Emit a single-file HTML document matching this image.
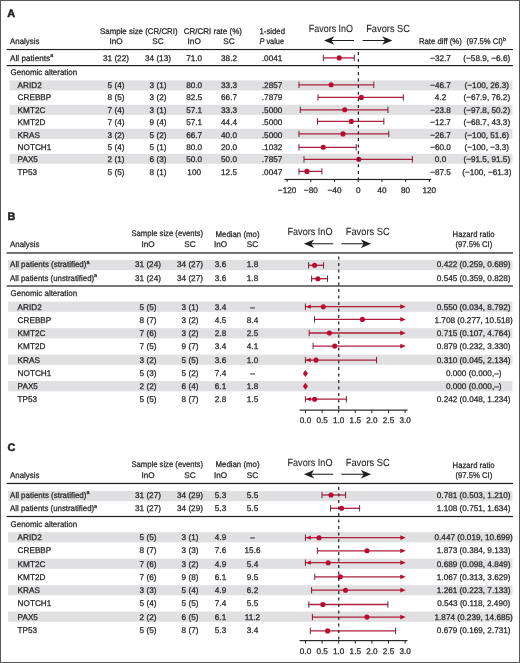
<!DOCTYPE html>
<html><head><meta charset="utf-8"><title>Forest plots</title>
<style>
html,body{margin:0;padding:0;background:#fff;}
svg{display:block;will-change:transform;}
svg text{font-family:"Liberation Sans", sans-serif;font-size:8.2px;fill:#231f20;text-rendering:geometricPrecision;stroke:#231f20;stroke-width:0.25px;}
</style></head>
<body>
<svg width="520" height="663" viewBox="0 0 520 663">
<rect width="520" height="663" fill="#fff"/>
<rect x="0.5" y="0.5" width="519" height="662" fill="none" stroke="#595959" stroke-width="1"/>
<rect x="9.70" y="80.40" width="502.80" height="10.00" fill="#e0e0e2"/>
<rect x="9.70" y="104.85" width="502.80" height="10.00" fill="#e0e0e2"/>
<rect x="9.70" y="128.80" width="502.80" height="10.00" fill="#e0e0e2"/>
<rect x="9.70" y="153.80" width="502.80" height="10.00" fill="#e0e0e2"/>
<text x="7.20" y="16.50" style="font-size:10.9px;stroke-width:0.5px" font-weight="bold">A</text>
<text x="100.00" y="33.60" textLength="77.60" lengthAdjust="spacingAndGlyphs">Sample size (CR/CRI)</text>
<text x="183.75" y="33.60" textLength="58.20" lengthAdjust="spacingAndGlyphs">CR/CRI rate (%)</text>
<text x="259.50" y="33.60" textLength="25.50" lengthAdjust="spacingAndGlyphs">1-sided</text>
<text x="10.10" y="44.00" textLength="29.30" lengthAdjust="spacingAndGlyphs">Analysis</text>
<text x="116.00" y="44.00" text-anchor="middle">InO</text>
<text x="158.00" y="44.00" text-anchor="middle">SC</text>
<text x="194.20" y="44.00" text-anchor="middle">InO</text>
<text x="229.00" y="44.00" text-anchor="middle">SC</text>
<text x="259.50" y="44.00" textLength="24.50" lengthAdjust="spacingAndGlyphs"><tspan font-style="italic">P</tspan> value</text>
<text x="418.90" y="44.00" textLength="42.90" lengthAdjust="spacingAndGlyphs">Rate diff (%)</text>
<text x="466.5" y="44.00"><tspan textLength="36.4" lengthAdjust="spacingAndGlyphs">(97.5% CI)</tspan><tspan style="font-size:5.4px" dy="-3.2">b</tspan></text>
<text x="308.80" y="31.70" style="font-size:10.3px;stroke-width:0.1px" textLength="44.20" lengthAdjust="spacingAndGlyphs">Favors InO</text>
<text x="366.20" y="31.70" style="font-size:10.3px;stroke-width:0.1px" textLength="43.80" lengthAdjust="spacingAndGlyphs">Favors SC</text>
<line x1="331.00" y1="40.50" x2="354.00" y2="40.50" stroke="#231f20" stroke-width="1.05" />
<path d="M324.00,40.50 L334.20,36.20 L331.40,40.50 L334.20,44.80 Z" fill="#231f20"/>
<line x1="362.60" y1="40.50" x2="385.40" y2="40.50" stroke="#231f20" stroke-width="1.05" />
<path d="M392.40,40.50 L382.20,36.20 L385.00,40.50 L382.20,44.80 Z" fill="#231f20"/>
<rect x="6.60" y="48.95" width="506.40" height="1.15" fill="#231f20"/>
<rect x="6.60" y="65.00" width="506.40" height="1.20" fill="#231f20"/>
<text x="10.10" y="60.60">All patients<tspan style="font-size:5.4px" dy="-3.2">a</tspan></text>
<text x="116.00" y="60.60" text-anchor="middle">31 (22)</text>
<text x="158.00" y="60.60" text-anchor="middle">34 (13)</text>
<text x="194.20" y="60.60" text-anchor="middle">71.0</text>
<text x="229.00" y="60.60" text-anchor="middle">38.2</text>
<text x="282.30" y="60.60" text-anchor="end">.0041</text>
<text x="440.50" y="60.60" text-anchor="middle">−32.7</text>
<text x="486.80" y="60.60" text-anchor="middle">(−58.9, −6.6)</text>
<line x1="323.30" y1="57.90" x2="354.29" y2="57.90" stroke="#ad1f3e" stroke-width="1.3" />
<line x1="323.30" y1="54.70" x2="323.30" y2="61.10" stroke="#6e1a2e" stroke-width="0.95" />
<line x1="354.29" y1="54.70" x2="354.29" y2="61.10" stroke="#6e1a2e" stroke-width="0.95" />
<circle cx="339.23" cy="57.90" r="2.55" fill="#b60c31"/>
<text x="10.60" y="75.40" textLength="66.50" lengthAdjust="spacingAndGlyphs">Genomic alteration</text>
<text x="17.60" y="87.80">ARID2</text>
<text x="116.00" y="87.80" text-anchor="middle">5 (4)</text>
<text x="158.00" y="87.80" text-anchor="middle">3 (1)</text>
<text x="194.20" y="87.80" text-anchor="middle">80.0</text>
<text x="229.00" y="87.80" text-anchor="middle">33.3</text>
<text x="282.30" y="87.80" text-anchor="end">.2857</text>
<text x="440.50" y="87.80" text-anchor="middle">−46.7</text>
<text x="486.80" y="87.80" text-anchor="middle">(−100, 26.3)</text>
<line x1="298.95" y1="84.80" x2="373.78" y2="84.80" stroke="#ad1f3e" stroke-width="1.3" />
<line x1="298.95" y1="81.60" x2="298.95" y2="88.00" stroke="#6e1a2e" stroke-width="0.95" />
<line x1="373.78" y1="81.60" x2="373.78" y2="88.00" stroke="#6e1a2e" stroke-width="0.95" />
<circle cx="331.13" cy="84.80" r="2.55" fill="#b60c31"/>
<text x="17.60" y="100.24">CREBBP</text>
<text x="116.00" y="100.24" text-anchor="middle">8 (5)</text>
<text x="158.00" y="100.24" text-anchor="middle">3 (2)</text>
<text x="194.20" y="100.24" text-anchor="middle">82.5</text>
<text x="229.00" y="100.24" text-anchor="middle">66.7</text>
<text x="282.30" y="100.24" text-anchor="end">.7879</text>
<text x="440.50" y="100.24" text-anchor="middle">4.2</text>
<text x="486.80" y="100.24" text-anchor="middle">(−67.9, 76.2)</text>
<line x1="317.97" y1="97.40" x2="403.35" y2="97.40" stroke="#ad1f3e" stroke-width="1.3" />
<line x1="317.97" y1="94.20" x2="317.97" y2="100.60" stroke="#6e1a2e" stroke-width="0.95" />
<line x1="403.35" y1="94.20" x2="403.35" y2="100.60" stroke="#6e1a2e" stroke-width="0.95" />
<circle cx="361.29" cy="97.40" r="2.55" fill="#b60c31"/>
<text x="17.60" y="112.68">KMT2C</text>
<text x="116.00" y="112.68" text-anchor="middle">7 (4)</text>
<text x="158.00" y="112.68" text-anchor="middle">3 (1)</text>
<text x="194.20" y="112.68" text-anchor="middle">57.1</text>
<text x="229.00" y="112.68" text-anchor="middle">33.3</text>
<text x="282.30" y="112.68" text-anchor="end">.5000</text>
<text x="440.50" y="112.68" text-anchor="middle">−23.8</text>
<text x="486.80" y="112.68" text-anchor="middle">(−97.8, 50.2)</text>
<line x1="300.25" y1="109.80" x2="387.94" y2="109.80" stroke="#ad1f3e" stroke-width="1.3" />
<line x1="300.25" y1="106.60" x2="300.25" y2="113.00" stroke="#6e1a2e" stroke-width="0.95" />
<line x1="387.94" y1="106.60" x2="387.94" y2="113.00" stroke="#6e1a2e" stroke-width="0.95" />
<circle cx="344.70" cy="109.80" r="2.55" fill="#b60c31"/>
<text x="17.60" y="125.12">KMT2D</text>
<text x="116.00" y="125.12" text-anchor="middle">7 (4)</text>
<text x="158.00" y="125.12" text-anchor="middle">9 (4)</text>
<text x="194.20" y="125.12" text-anchor="middle">57.1</text>
<text x="229.00" y="125.12" text-anchor="middle">44.4</text>
<text x="282.30" y="125.12" text-anchor="end">.5000</text>
<text x="440.50" y="125.12" text-anchor="middle">−12.7</text>
<text x="486.80" y="125.12" text-anchor="middle">(−68.7, 43.3)</text>
<line x1="317.50" y1="121.40" x2="383.86" y2="121.40" stroke="#ad1f3e" stroke-width="1.3" />
<line x1="317.50" y1="118.20" x2="317.50" y2="124.60" stroke="#6e1a2e" stroke-width="0.95" />
<line x1="383.86" y1="118.20" x2="383.86" y2="124.60" stroke="#6e1a2e" stroke-width="0.95" />
<circle cx="351.28" cy="121.40" r="2.55" fill="#b60c31"/>
<text x="17.60" y="137.56">KRAS</text>
<text x="116.00" y="137.56" text-anchor="middle">3 (2)</text>
<text x="158.00" y="137.56" text-anchor="middle">5 (2)</text>
<text x="194.20" y="137.56" text-anchor="middle">66.7</text>
<text x="229.00" y="137.56" text-anchor="middle">40.0</text>
<text x="282.30" y="137.56" text-anchor="end">.5000</text>
<text x="440.50" y="137.56" text-anchor="middle">−26.7</text>
<text x="486.80" y="137.56" text-anchor="middle">(−100, 51.6)</text>
<line x1="298.95" y1="133.90" x2="388.77" y2="133.90" stroke="#ad1f3e" stroke-width="1.3" />
<line x1="298.95" y1="130.70" x2="298.95" y2="137.10" stroke="#6e1a2e" stroke-width="0.95" />
<line x1="388.77" y1="130.70" x2="388.77" y2="137.10" stroke="#6e1a2e" stroke-width="0.95" />
<circle cx="342.98" cy="133.90" r="2.55" fill="#b60c31"/>
<text x="17.60" y="150.00">NOTCH1</text>
<text x="116.00" y="150.00" text-anchor="middle">5 (4)</text>
<text x="158.00" y="150.00" text-anchor="middle">5 (1)</text>
<text x="194.20" y="150.00" text-anchor="middle">80.0</text>
<text x="229.00" y="150.00" text-anchor="middle">20.0</text>
<text x="282.30" y="150.00" text-anchor="end">.1032</text>
<text x="440.50" y="150.00" text-anchor="middle">−60.0</text>
<text x="486.80" y="150.00" text-anchor="middle">(−100, −3.3)</text>
<line x1="298.95" y1="147.30" x2="356.24" y2="147.30" stroke="#ad1f3e" stroke-width="1.3" />
<line x1="298.95" y1="144.10" x2="298.95" y2="150.50" stroke="#6e1a2e" stroke-width="0.95" />
<line x1="356.24" y1="144.10" x2="356.24" y2="150.50" stroke="#6e1a2e" stroke-width="0.95" />
<circle cx="323.25" cy="147.30" r="2.55" fill="#b60c31"/>
<text x="17.60" y="162.44">PAX5</text>
<text x="116.00" y="162.44" text-anchor="middle">2 (1)</text>
<text x="158.00" y="162.44" text-anchor="middle">6 (3)</text>
<text x="194.20" y="162.44" text-anchor="middle">50.0</text>
<text x="229.00" y="162.44" text-anchor="middle">50.0</text>
<text x="282.30" y="162.44" text-anchor="end">.7857</text>
<text x="440.50" y="162.44" text-anchor="middle">0.0</text>
<text x="486.80" y="162.44" text-anchor="middle">(−91.5, 91.5)</text>
<line x1="303.99" y1="159.30" x2="412.41" y2="159.30" stroke="#ad1f3e" stroke-width="1.3" />
<line x1="303.99" y1="156.10" x2="303.99" y2="162.50" stroke="#6e1a2e" stroke-width="0.95" />
<line x1="412.41" y1="156.10" x2="412.41" y2="162.50" stroke="#6e1a2e" stroke-width="0.95" />
<circle cx="358.80" cy="159.30" r="2.55" fill="#b60c31"/>
<text x="17.60" y="174.88">TP53</text>
<text x="116.00" y="174.88" text-anchor="middle">5 (5)</text>
<text x="158.00" y="174.88" text-anchor="middle">8 (1)</text>
<text x="194.20" y="174.88" text-anchor="middle">100</text>
<text x="229.00" y="174.88" text-anchor="middle">12.5</text>
<text x="282.30" y="174.88" text-anchor="end">.0047</text>
<text x="440.50" y="174.88" text-anchor="middle">−87.5</text>
<text x="486.80" y="174.88" text-anchor="middle">(−100, −61.3)</text>
<line x1="298.95" y1="171.40" x2="321.88" y2="171.40" stroke="#ad1f3e" stroke-width="1.3" />
<line x1="298.95" y1="168.20" x2="298.95" y2="174.60" stroke="#6e1a2e" stroke-width="0.95" />
<line x1="321.88" y1="168.20" x2="321.88" y2="174.60" stroke="#6e1a2e" stroke-width="0.95" />
<circle cx="306.96" cy="171.40" r="2.55" fill="#b60c31"/>
<line x1="358.40" y1="52.10" x2="358.40" y2="179.20" stroke="#231f20" stroke-width="1.2" stroke-dasharray="3.0,3.60"/>
<rect x="284.40" y="178.90" width="146.80" height="1.15" fill="#231f20"/>
<line x1="287.10" y1="179.00" x2="287.10" y2="182.00" stroke="#231f20" stroke-width="1" />
<text x="287.10" y="192.60" text-anchor="middle">−120</text>
<line x1="310.80" y1="179.00" x2="310.80" y2="182.00" stroke="#231f20" stroke-width="1" />
<text x="310.80" y="192.60" text-anchor="middle">−80</text>
<line x1="334.50" y1="179.00" x2="334.50" y2="182.00" stroke="#231f20" stroke-width="1" />
<text x="334.50" y="192.60" text-anchor="middle">−40</text>
<line x1="358.20" y1="179.00" x2="358.20" y2="182.00" stroke="#231f20" stroke-width="1" />
<text x="358.20" y="192.60" text-anchor="middle">0</text>
<line x1="381.90" y1="179.00" x2="381.90" y2="182.00" stroke="#231f20" stroke-width="1" />
<text x="381.90" y="192.60" text-anchor="middle">40</text>
<line x1="405.60" y1="179.00" x2="405.60" y2="182.00" stroke="#231f20" stroke-width="1" />
<text x="405.60" y="192.60" text-anchor="middle">80</text>
<line x1="429.30" y1="179.00" x2="429.30" y2="182.00" stroke="#231f20" stroke-width="1" />
<text x="429.30" y="192.60" text-anchor="middle">120</text>
<rect x="8.10" y="259.90" width="504.40" height="10.30" fill="#e0e0e2"/>
<rect x="8.10" y="301.65" width="504.40" height="10.20" fill="#e0e0e2"/>
<rect x="8.10" y="328.13" width="504.40" height="10.20" fill="#e0e0e2"/>
<rect x="8.10" y="354.61" width="504.40" height="10.20" fill="#e0e0e2"/>
<rect x="8.10" y="381.09" width="504.40" height="10.20" fill="#e0e0e2"/>
<text x="7.40" y="220.00" style="font-size:10.9px;stroke-width:0.5px" font-weight="bold">B</text>
<text x="131.50" y="236.40" textLength="71.50" lengthAdjust="spacingAndGlyphs">Sample size (events)</text>
<text x="215.50" y="236.60" textLength="44.00" lengthAdjust="spacingAndGlyphs">Median (mo)</text>
<text x="473.60" y="237.40" text-anchor="middle" textLength="42.00" lengthAdjust="spacingAndGlyphs">Hazard ratio</text>
<text x="10.10" y="247.30" textLength="29.30" lengthAdjust="spacingAndGlyphs">Analysis</text>
<text x="148.00" y="247.30" text-anchor="middle">InO</text>
<text x="190.00" y="247.30" text-anchor="middle">SC</text>
<text x="220.50" y="247.30" text-anchor="middle">InO</text>
<text x="252.50" y="247.30" text-anchor="middle">SC</text>
<text x="473.85" y="247.30" text-anchor="middle" textLength="36.90" lengthAdjust="spacingAndGlyphs">(97.5% CI)</text>
<text x="287.50" y="235.10" style="font-size:10.3px;stroke-width:0.1px" textLength="45.00" lengthAdjust="spacingAndGlyphs">Favors InO</text>
<text x="345.75" y="235.10" style="font-size:10.3px;stroke-width:0.1px" textLength="44.00" lengthAdjust="spacingAndGlyphs">Favors SC</text>
<line x1="310.90" y1="243.75" x2="333.20" y2="243.75" stroke="#231f20" stroke-width="1.05" />
<path d="M303.90,243.75 L314.10,239.45 L311.30,243.75 L314.10,248.05 Z" fill="#231f20"/>
<line x1="341.30" y1="243.75" x2="364.10" y2="243.75" stroke="#231f20" stroke-width="1.05" />
<path d="M371.10,243.75 L360.90,239.45 L363.70,243.75 L360.90,248.05 Z" fill="#231f20"/>
<rect x="6.60" y="252.35" width="506.40" height="1.25" fill="#231f20"/>
<rect x="6.60" y="285.40" width="506.40" height="1.20" fill="#231f20"/>
<text x="10.1" y="267.10"><tspan textLength="76.3" lengthAdjust="spacingAndGlyphs">All patients (stratified)</tspan><tspan style="font-size:5.4px" dy="-3.2">a</tspan></text>
<text x="148.00" y="267.10" text-anchor="middle">31 (24)</text>
<text x="190.00" y="267.10" text-anchor="middle">34 (27)</text>
<text x="220.50" y="267.10" text-anchor="middle">3.6</text>
<text x="252.50" y="267.10" text-anchor="middle">1.8</text>
<text x="473.70" y="267.10" text-anchor="middle">0.422 (0.259, 0.689)</text>
<text x="10.1" y="280.60"><tspan textLength="84.0" lengthAdjust="spacingAndGlyphs">All patients (unstratified)</tspan><tspan style="font-size:5.4px" dy="-3.2">a</tspan></text>
<text x="148.00" y="280.60" text-anchor="middle">31 (24)</text>
<text x="190.00" y="280.60" text-anchor="middle">34 (27)</text>
<text x="220.50" y="280.60" text-anchor="middle">3.6</text>
<text x="252.50" y="280.60" text-anchor="middle">1.8</text>
<text x="473.70" y="280.60" text-anchor="middle">0.545 (0.359, 0.828)</text>
<text x="10.60" y="296.20" textLength="66.50" lengthAdjust="spacingAndGlyphs">Genomic alteration</text>
<text x="17.60" y="309.60">ARID2</text>
<text x="148.00" y="309.60" text-anchor="middle">5 (5)</text>
<text x="190.00" y="309.60" text-anchor="middle">3 (1)</text>
<text x="220.50" y="309.60" text-anchor="middle">3.4</text>
<text x="252.50" y="309.60" text-anchor="middle">–</text>
<text x="473.70" y="309.60" text-anchor="middle">0.550 (0.034, 8.792)</text>
<text x="17.60" y="322.86">CREBBP</text>
<text x="148.00" y="322.86" text-anchor="middle">8 (7)</text>
<text x="190.00" y="322.86" text-anchor="middle">3 (2)</text>
<text x="220.50" y="322.86" text-anchor="middle">4.5</text>
<text x="252.50" y="322.86" text-anchor="middle">8.4</text>
<text x="473.70" y="322.86" text-anchor="middle">1.708 (0.277, 10.518)</text>
<text x="17.60" y="336.12">KMT2C</text>
<text x="148.00" y="336.12" text-anchor="middle">7 (6)</text>
<text x="190.00" y="336.12" text-anchor="middle">3 (2)</text>
<text x="220.50" y="336.12" text-anchor="middle">2.8</text>
<text x="252.50" y="336.12" text-anchor="middle">2.5</text>
<text x="473.70" y="336.12" text-anchor="middle">0.715 (0.107, 4.764)</text>
<text x="17.60" y="349.38">KMT2D</text>
<text x="148.00" y="349.38" text-anchor="middle">7 (5)</text>
<text x="190.00" y="349.38" text-anchor="middle">9 (7)</text>
<text x="220.50" y="349.38" text-anchor="middle">3.4</text>
<text x="252.50" y="349.38" text-anchor="middle">4.1</text>
<text x="473.70" y="349.38" text-anchor="middle">0.879 (0.232, 3.330)</text>
<text x="17.60" y="362.64">KRAS</text>
<text x="148.00" y="362.64" text-anchor="middle">3 (2)</text>
<text x="190.00" y="362.64" text-anchor="middle">5 (5)</text>
<text x="220.50" y="362.64" text-anchor="middle">3.6</text>
<text x="252.50" y="362.64" text-anchor="middle">1.0</text>
<text x="473.70" y="362.64" text-anchor="middle">0.310 (0.045, 2.134)</text>
<text x="17.60" y="375.90">NOTCH1</text>
<text x="148.00" y="375.90" text-anchor="middle">5 (3)</text>
<text x="190.00" y="375.90" text-anchor="middle">5 (2)</text>
<text x="220.50" y="375.90" text-anchor="middle">7.4</text>
<text x="252.50" y="375.90" text-anchor="middle">–</text>
<text x="473.70" y="375.90" text-anchor="middle">0.000 (0.000,–)</text>
<text x="17.60" y="389.16">PAX5</text>
<text x="148.00" y="389.16" text-anchor="middle">2 (2)</text>
<text x="190.00" y="389.16" text-anchor="middle">6 (4)</text>
<text x="220.50" y="389.16" text-anchor="middle">6.1</text>
<text x="252.50" y="389.16" text-anchor="middle">1.8</text>
<text x="473.70" y="389.16" text-anchor="middle">0.000 (0.000,–)</text>
<text x="17.60" y="402.42">TP53</text>
<text x="148.00" y="402.42" text-anchor="middle">5 (5)</text>
<text x="190.00" y="402.42" text-anchor="middle">8 (7)</text>
<text x="220.50" y="402.42" text-anchor="middle">2.8</text>
<text x="252.50" y="402.42" text-anchor="middle">1.5</text>
<text x="473.70" y="402.42" text-anchor="middle">0.242 (0.048, 1.234)</text>
<line x1="308.60" y1="265.30" x2="323.60" y2="265.30" stroke="#ad1f3e" stroke-width="1.3" />
<line x1="308.60" y1="262.10" x2="308.60" y2="268.50" stroke="#6e1a2e" stroke-width="0.95" />
<line x1="323.60" y1="262.10" x2="323.60" y2="268.50" stroke="#6e1a2e" stroke-width="0.95" />
<circle cx="314.60" cy="265.30" r="2.55" fill="#b60c31"/>
<line x1="311.60" y1="278.70" x2="327.50" y2="278.70" stroke="#ad1f3e" stroke-width="1.3" />
<line x1="311.60" y1="275.50" x2="311.60" y2="281.90" stroke="#6e1a2e" stroke-width="0.95" />
<line x1="327.50" y1="275.50" x2="327.50" y2="281.90" stroke="#6e1a2e" stroke-width="0.95" />
<circle cx="317.90" cy="278.70" r="2.55" fill="#b60c31"/>
<line x1="305.40" y1="306.70" x2="401.70" y2="306.70" stroke="#ad1f3e" stroke-width="1.3" />
<line x1="305.40" y1="303.50" x2="305.40" y2="309.90" stroke="#6e1a2e" stroke-width="0.95" />
<path d="M306.00,306.70 L310.80,304.60 L310.80,308.80 Z" fill="#b60c31"/>
<path d="M405.70,306.70 L400.30,304.30 L400.30,309.10 Z" fill="#b60c31"/>
<circle cx="323.30" cy="306.70" r="2.55" fill="#b60c31"/>
<line x1="314.50" y1="319.40" x2="401.70" y2="319.40" stroke="#ad1f3e" stroke-width="1.3" />
<line x1="314.50" y1="316.20" x2="314.50" y2="322.60" stroke="#6e1a2e" stroke-width="0.95" />
<path d="M405.70,319.40 L400.30,317.00 L400.30,321.80 Z" fill="#b60c31"/>
<circle cx="362.40" cy="319.40" r="2.55" fill="#b60c31"/>
<line x1="309.20" y1="333.00" x2="401.70" y2="333.00" stroke="#ad1f3e" stroke-width="1.3" />
<line x1="309.20" y1="329.80" x2="309.20" y2="336.20" stroke="#6e1a2e" stroke-width="0.95" />
<path d="M405.70,333.00 L400.30,330.60 L400.30,335.40 Z" fill="#b60c31"/>
<circle cx="329.40" cy="333.00" r="2.55" fill="#b60c31"/>
<line x1="313.10" y1="346.10" x2="401.70" y2="346.10" stroke="#ad1f3e" stroke-width="1.3" />
<line x1="313.10" y1="342.90" x2="313.10" y2="349.30" stroke="#6e1a2e" stroke-width="0.95" />
<path d="M405.70,346.10 L400.30,343.70 L400.30,348.50 Z" fill="#b60c31"/>
<circle cx="334.70" cy="346.10" r="2.55" fill="#b60c31"/>
<line x1="305.40" y1="360.10" x2="376.60" y2="360.10" stroke="#ad1f3e" stroke-width="1.3" />
<line x1="305.40" y1="356.90" x2="305.40" y2="363.30" stroke="#6e1a2e" stroke-width="0.95" />
<line x1="376.60" y1="356.90" x2="376.60" y2="363.30" stroke="#6e1a2e" stroke-width="0.95" />
<path d="M306.00,360.10 L310.80,358.00 L310.80,362.20 Z" fill="#b60c31"/>
<circle cx="316.00" cy="360.10" r="2.55" fill="#b60c31"/>
<path d="M305.40,370.10 L307.90,373.60 L305.40,377.10 L302.90,373.60 Z" fill="#b60c31"/>
<path d="M305.40,382.70 L307.90,386.20 L305.40,389.70 L302.90,386.20 Z" fill="#b60c31"/>
<line x1="305.40" y1="399.20" x2="346.40" y2="399.20" stroke="#ad1f3e" stroke-width="1.3" />
<line x1="305.40" y1="396.00" x2="305.40" y2="402.40" stroke="#6e1a2e" stroke-width="0.95" />
<line x1="346.40" y1="396.00" x2="346.40" y2="402.40" stroke="#6e1a2e" stroke-width="0.95" />
<path d="M306.00,399.20 L310.80,397.10 L310.80,401.30 Z" fill="#b60c31"/>
<circle cx="314.60" cy="399.20" r="2.55" fill="#b60c31"/>
<line x1="338.75" y1="256.60" x2="338.75" y2="410.00" stroke="#231f20" stroke-width="1.2" stroke-dasharray="3.0,3.50"/>
<rect x="299.60" y="409.55" width="107.90" height="1.15" fill="#231f20"/>
<line x1="305.50" y1="410.00" x2="305.50" y2="413.00" stroke="#231f20" stroke-width="1" />
<text x="305.50" y="423.30" text-anchor="middle">0.0</text>
<line x1="322.10" y1="410.00" x2="322.10" y2="413.00" stroke="#231f20" stroke-width="1" />
<text x="322.10" y="423.30" text-anchor="middle">0.5</text>
<line x1="338.70" y1="410.00" x2="338.70" y2="413.00" stroke="#231f20" stroke-width="1" />
<text x="338.70" y="423.30" text-anchor="middle">1.0</text>
<line x1="355.30" y1="410.00" x2="355.30" y2="413.00" stroke="#231f20" stroke-width="1" />
<text x="355.30" y="423.30" text-anchor="middle">1.5</text>
<line x1="371.90" y1="410.00" x2="371.90" y2="413.00" stroke="#231f20" stroke-width="1" />
<text x="371.90" y="423.30" text-anchor="middle">2.0</text>
<line x1="388.50" y1="410.00" x2="388.50" y2="413.00" stroke="#231f20" stroke-width="1" />
<text x="388.50" y="423.30" text-anchor="middle">2.5</text>
<line x1="405.10" y1="410.00" x2="405.10" y2="413.00" stroke="#231f20" stroke-width="1" />
<text x="405.10" y="423.30" text-anchor="middle">3.0</text>
<rect x="8.10" y="490.90" width="504.40" height="10.30" fill="#e0e0e2"/>
<rect x="8.10" y="532.15" width="504.40" height="10.20" fill="#e0e0e2"/>
<rect x="8.10" y="558.63" width="504.40" height="10.20" fill="#e0e0e2"/>
<rect x="8.10" y="585.11" width="504.40" height="10.20" fill="#e0e0e2"/>
<rect x="8.10" y="611.59" width="504.40" height="10.20" fill="#e0e0e2"/>
<text x="7.40" y="450.50" style="font-size:10.9px;stroke-width:0.5px" font-weight="bold">C</text>
<text x="131.50" y="466.90" textLength="71.50" lengthAdjust="spacingAndGlyphs">Sample size (events)</text>
<text x="215.50" y="467.10" textLength="44.00" lengthAdjust="spacingAndGlyphs">Median (mo)</text>
<text x="473.60" y="467.90" text-anchor="middle" textLength="42.00" lengthAdjust="spacingAndGlyphs">Hazard ratio</text>
<text x="10.10" y="477.80" textLength="29.30" lengthAdjust="spacingAndGlyphs">Analysis</text>
<text x="148.00" y="477.80" text-anchor="middle">InO</text>
<text x="190.00" y="477.80" text-anchor="middle">SC</text>
<text x="220.50" y="477.80" text-anchor="middle">InO</text>
<text x="252.50" y="477.80" text-anchor="middle">SC</text>
<text x="473.85" y="477.80" text-anchor="middle" textLength="36.90" lengthAdjust="spacingAndGlyphs">(97.5% CI)</text>
<text x="287.50" y="465.60" style="font-size:10.3px;stroke-width:0.1px" textLength="45.00" lengthAdjust="spacingAndGlyphs">Favors InO</text>
<text x="345.75" y="465.60" style="font-size:10.3px;stroke-width:0.1px" textLength="44.00" lengthAdjust="spacingAndGlyphs">Favors SC</text>
<line x1="310.90" y1="474.25" x2="333.20" y2="474.25" stroke="#231f20" stroke-width="1.05" />
<path d="M303.90,474.25 L314.10,469.95 L311.30,474.25 L314.10,478.55 Z" fill="#231f20"/>
<line x1="341.30" y1="474.25" x2="364.10" y2="474.25" stroke="#231f20" stroke-width="1.05" />
<path d="M371.10,474.25 L360.90,469.95 L363.70,474.25 L360.90,478.55 Z" fill="#231f20"/>
<rect x="6.60" y="482.85" width="506.40" height="1.25" fill="#231f20"/>
<rect x="6.60" y="515.90" width="506.40" height="1.20" fill="#231f20"/>
<text x="10.1" y="497.60"><tspan textLength="76.3" lengthAdjust="spacingAndGlyphs">All patients (stratified)</tspan><tspan style="font-size:5.4px" dy="-3.2">a</tspan></text>
<text x="148.00" y="497.60" text-anchor="middle">31 (27)</text>
<text x="190.00" y="497.60" text-anchor="middle">34 (29)</text>
<text x="220.50" y="497.60" text-anchor="middle">5.3</text>
<text x="252.50" y="497.60" text-anchor="middle">5.5</text>
<text x="473.70" y="497.60" text-anchor="middle">0.781 (0.503, 1.210)</text>
<text x="10.1" y="511.10"><tspan textLength="84.0" lengthAdjust="spacingAndGlyphs">All patients (unstratified)</tspan><tspan style="font-size:5.4px" dy="-3.2">a</tspan></text>
<text x="148.00" y="511.10" text-anchor="middle">31 (27)</text>
<text x="190.00" y="511.10" text-anchor="middle">34 (29)</text>
<text x="220.50" y="511.10" text-anchor="middle">5.3</text>
<text x="252.50" y="511.10" text-anchor="middle">5.5</text>
<text x="473.70" y="511.10" text-anchor="middle">1.108 (0.751, 1.634)</text>
<text x="10.60" y="526.70" textLength="66.50" lengthAdjust="spacingAndGlyphs">Genomic alteration</text>
<text x="17.60" y="540.10">ARID2</text>
<text x="148.00" y="540.10" text-anchor="middle">5 (5)</text>
<text x="190.00" y="540.10" text-anchor="middle">3 (1)</text>
<text x="220.50" y="540.10" text-anchor="middle">4.9</text>
<text x="252.50" y="540.10" text-anchor="middle">–</text>
<text x="473.70" y="540.10" text-anchor="middle">0.447 (0.019, 10.699)</text>
<text x="17.60" y="553.36">CREBBP</text>
<text x="148.00" y="553.36" text-anchor="middle">8 (7)</text>
<text x="190.00" y="553.36" text-anchor="middle">3 (3)</text>
<text x="220.50" y="553.36" text-anchor="middle">7.6</text>
<text x="252.50" y="553.36" text-anchor="middle">15.6</text>
<text x="473.70" y="553.36" text-anchor="middle">1.873 (0.384, 9.133)</text>
<text x="17.60" y="566.62">KMT2C</text>
<text x="148.00" y="566.62" text-anchor="middle">7 (6)</text>
<text x="190.00" y="566.62" text-anchor="middle">3 (2)</text>
<text x="220.50" y="566.62" text-anchor="middle">4.9</text>
<text x="252.50" y="566.62" text-anchor="middle">5.4</text>
<text x="473.70" y="566.62" text-anchor="middle">0.689 (0.098, 4.849)</text>
<text x="17.60" y="579.88">KMT2D</text>
<text x="148.00" y="579.88" text-anchor="middle">7 (6)</text>
<text x="190.00" y="579.88" text-anchor="middle">9 (8)</text>
<text x="220.50" y="579.88" text-anchor="middle">6.1</text>
<text x="252.50" y="579.88" text-anchor="middle">9.5</text>
<text x="473.70" y="579.88" text-anchor="middle">1.067 (0.313, 3.629)</text>
<text x="17.60" y="593.14">KRAS</text>
<text x="148.00" y="593.14" text-anchor="middle">3 (3)</text>
<text x="190.00" y="593.14" text-anchor="middle">5 (4)</text>
<text x="220.50" y="593.14" text-anchor="middle">4.9</text>
<text x="252.50" y="593.14" text-anchor="middle">6.2</text>
<text x="473.70" y="593.14" text-anchor="middle">1.261 (0.223, 7.133)</text>
<text x="17.60" y="606.40">NOTCH1</text>
<text x="148.00" y="606.40" text-anchor="middle">5 (4)</text>
<text x="190.00" y="606.40" text-anchor="middle">5 (5)</text>
<text x="220.50" y="606.40" text-anchor="middle">7.4</text>
<text x="252.50" y="606.40" text-anchor="middle">5.5</text>
<text x="473.70" y="606.40" text-anchor="middle">0.543 (0.118, 2.490)</text>
<text x="17.60" y="619.66">PAX5</text>
<text x="148.00" y="619.66" text-anchor="middle">2 (2)</text>
<text x="190.00" y="619.66" text-anchor="middle">6 (5)</text>
<text x="220.50" y="619.66" text-anchor="middle">6.1</text>
<text x="252.50" y="619.66" text-anchor="middle">11.2</text>
<text x="473.70" y="619.66" text-anchor="middle">1.874 (0.239, 14.685)</text>
<text x="17.60" y="632.92">TP53</text>
<text x="148.00" y="632.92" text-anchor="middle">5 (5)</text>
<text x="190.00" y="632.92" text-anchor="middle">8 (7)</text>
<text x="220.50" y="632.92" text-anchor="middle">5.3</text>
<text x="252.50" y="632.92" text-anchor="middle">3.4</text>
<text x="473.70" y="632.92" text-anchor="middle">0.679 (0.169, 2.731)</text>
<line x1="322.00" y1="495.00" x2="345.60" y2="495.00" stroke="#ad1f3e" stroke-width="1.3" />
<line x1="322.00" y1="491.80" x2="322.00" y2="498.20" stroke="#6e1a2e" stroke-width="0.95" />
<line x1="345.60" y1="491.80" x2="345.60" y2="498.20" stroke="#6e1a2e" stroke-width="0.95" />
<circle cx="331.00" cy="495.00" r="2.55" fill="#b60c31"/>
<line x1="330.60" y1="508.30" x2="359.60" y2="508.30" stroke="#ad1f3e" stroke-width="1.3" />
<line x1="330.60" y1="505.10" x2="330.60" y2="511.50" stroke="#6e1a2e" stroke-width="0.95" />
<line x1="359.60" y1="505.10" x2="359.60" y2="511.50" stroke="#6e1a2e" stroke-width="0.95" />
<circle cx="341.60" cy="508.30" r="2.55" fill="#b60c31"/>
<line x1="305.40" y1="537.70" x2="401.70" y2="537.70" stroke="#ad1f3e" stroke-width="1.3" />
<line x1="305.40" y1="534.50" x2="305.40" y2="540.90" stroke="#6e1a2e" stroke-width="0.95" />
<path d="M306.00,537.70 L310.80,535.60 L310.80,539.80 Z" fill="#b60c31"/>
<path d="M405.70,537.70 L400.30,535.30 L400.30,540.10 Z" fill="#b60c31"/>
<circle cx="319.00" cy="537.70" r="2.55" fill="#b60c31"/>
<line x1="317.40" y1="550.80" x2="401.70" y2="550.80" stroke="#ad1f3e" stroke-width="1.3" />
<line x1="317.40" y1="547.60" x2="317.40" y2="554.00" stroke="#6e1a2e" stroke-width="0.95" />
<path d="M405.70,550.80 L400.30,548.40 L400.30,553.20 Z" fill="#b60c31"/>
<circle cx="367.00" cy="550.80" r="2.55" fill="#b60c31"/>
<line x1="305.40" y1="562.70" x2="401.70" y2="562.70" stroke="#ad1f3e" stroke-width="1.3" />
<line x1="305.40" y1="559.50" x2="305.40" y2="565.90" stroke="#6e1a2e" stroke-width="0.95" />
<path d="M306.00,562.70 L310.80,560.60 L310.80,564.80 Z" fill="#b60c31"/>
<path d="M405.70,562.70 L400.30,560.30 L400.30,565.10 Z" fill="#b60c31"/>
<circle cx="328.20" cy="562.70" r="2.55" fill="#b60c31"/>
<line x1="314.80" y1="576.80" x2="401.70" y2="576.80" stroke="#ad1f3e" stroke-width="1.3" />
<line x1="314.80" y1="573.60" x2="314.80" y2="580.00" stroke="#6e1a2e" stroke-width="0.95" />
<path d="M405.70,576.80 L400.30,574.40 L400.30,579.20 Z" fill="#b60c31"/>
<circle cx="340.30" cy="576.80" r="2.55" fill="#b60c31"/>
<line x1="311.60" y1="590.20" x2="401.70" y2="590.20" stroke="#ad1f3e" stroke-width="1.3" />
<line x1="311.60" y1="587.00" x2="311.60" y2="593.40" stroke="#6e1a2e" stroke-width="0.95" />
<path d="M405.70,590.20 L400.30,587.80 L400.30,592.60 Z" fill="#b60c31"/>
<circle cx="345.50" cy="590.20" r="2.55" fill="#b60c31"/>
<line x1="308.80" y1="604.50" x2="387.90" y2="604.50" stroke="#ad1f3e" stroke-width="1.3" />
<line x1="308.80" y1="601.30" x2="308.80" y2="607.70" stroke="#6e1a2e" stroke-width="0.95" />
<line x1="387.90" y1="601.30" x2="387.90" y2="607.70" stroke="#6e1a2e" stroke-width="0.95" />
<circle cx="322.90" cy="604.50" r="2.55" fill="#b60c31"/>
<line x1="312.40" y1="617.10" x2="401.70" y2="617.10" stroke="#ad1f3e" stroke-width="1.3" />
<line x1="312.40" y1="613.90" x2="312.40" y2="620.30" stroke="#6e1a2e" stroke-width="0.95" />
<path d="M405.70,617.10 L400.30,614.70 L400.30,619.50 Z" fill="#b60c31"/>
<circle cx="366.90" cy="617.10" r="2.55" fill="#b60c31"/>
<line x1="310.30" y1="630.90" x2="395.60" y2="630.90" stroke="#ad1f3e" stroke-width="1.3" />
<line x1="310.30" y1="627.70" x2="310.30" y2="634.10" stroke="#6e1a2e" stroke-width="0.95" />
<line x1="395.60" y1="627.70" x2="395.60" y2="634.10" stroke="#6e1a2e" stroke-width="0.95" />
<circle cx="327.60" cy="630.90" r="2.55" fill="#b60c31"/>
<line x1="338.75" y1="487.10" x2="338.75" y2="640.50" stroke="#231f20" stroke-width="1.2" stroke-dasharray="3.0,3.50"/>
<rect x="299.60" y="640.05" width="107.90" height="1.15" fill="#231f20"/>
<line x1="305.50" y1="640.50" x2="305.50" y2="643.50" stroke="#231f20" stroke-width="1" />
<text x="305.50" y="653.80" text-anchor="middle">0.0</text>
<line x1="322.10" y1="640.50" x2="322.10" y2="643.50" stroke="#231f20" stroke-width="1" />
<text x="322.10" y="653.80" text-anchor="middle">0.5</text>
<line x1="338.70" y1="640.50" x2="338.70" y2="643.50" stroke="#231f20" stroke-width="1" />
<text x="338.70" y="653.80" text-anchor="middle">1.0</text>
<line x1="355.30" y1="640.50" x2="355.30" y2="643.50" stroke="#231f20" stroke-width="1" />
<text x="355.30" y="653.80" text-anchor="middle">1.5</text>
<line x1="371.90" y1="640.50" x2="371.90" y2="643.50" stroke="#231f20" stroke-width="1" />
<text x="371.90" y="653.80" text-anchor="middle">2.0</text>
<line x1="388.50" y1="640.50" x2="388.50" y2="643.50" stroke="#231f20" stroke-width="1" />
<text x="388.50" y="653.80" text-anchor="middle">2.5</text>
<line x1="405.10" y1="640.50" x2="405.10" y2="643.50" stroke="#231f20" stroke-width="1" />
<text x="405.10" y="653.80" text-anchor="middle">3.0</text>
</svg>
</body></html>
